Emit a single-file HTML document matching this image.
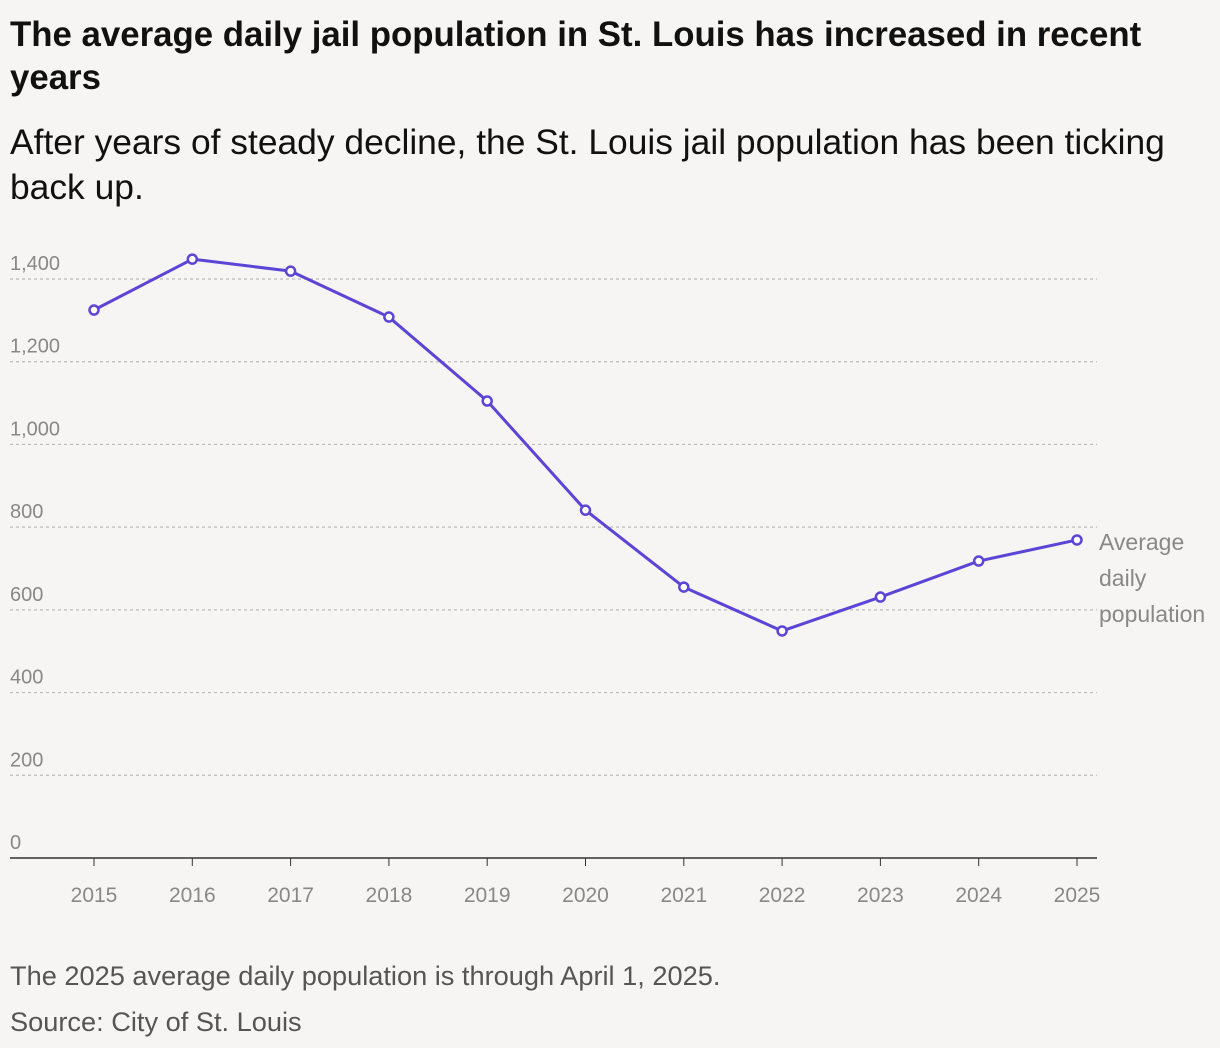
<!DOCTYPE html>
<html><head><meta charset="utf-8"><style>
html,body{margin:0;padding:0;background:#f6f5f3;width:1220px;height:1048px;overflow:hidden;font-family:"Liberation Sans",sans-serif;}
#title{position:absolute;left:10px;top:13px;width:1210px;font-size:34.8px;font-weight:bold;line-height:43px;color:#111;margin:0;white-space:nowrap}
#sub{position:absolute;left:10px;top:120px;width:1210px;font-size:35.4px;line-height:45px;color:#111;margin:0;white-space:nowrap}
.foot{position:absolute;left:10px;font-size:27.2px;color:#555}
svg{position:absolute;left:0;top:0}
</style></head><body>
<h1 id="title">The average daily jail population in St. Louis has increased in recent<br>years</h1>
<p id="sub">After years of steady decline, the St. Louis jail population has been ticking<br>back up.</p>
<svg id="chart" width="1220" height="1048"></svg>
<div class="foot" style="top:960px">The 2025 average daily population is through April 1, 2025.</div>
<div class="foot" style="top:1006px">Source: City of St. Louis</div>
<script>
const years=[2015,2016,2017,2018,2019,2020,2021,2022,2023,2024,2025];
const population=[1325,1448,1419,1308,1105,841,655,549,631,718,769];
const yTicks=[0,200,400,600,800,1000,1200,1400];
const yTickLabels=["0","200","400","600","800","1,000","1,200","1,400"];
const NS="http://www.w3.org/2000/svg";
const svg=document.getElementById('chart');
const x0=94,xStep=98.3,y0=858,yScale=(858-279)/1400;
const X=i=>x0+i*xStep, Y=v=>y0-v*yScale;
function mk(t,a){const e=document.createElementNS(NS,t);for(const k in a)e.setAttribute(k,a[k]);svg.appendChild(e);return e;}
yTicks.forEach((v,i)=>{
  if(v>0){const g=mk('line',{x1:10,x2:1097,y1:Y(v),y2:Y(v),stroke:'#bbb','stroke-width':1.2,'stroke-dasharray':'3,3'});
  
  }
  const t=mk('text',{x:10,y:Y(v)-9,'font-size':20,fill:'#888','font-family':'Liberation Sans, sans-serif'});
  t.textContent=yTickLabels[i];
  
  
});
const ax=mk('line',{x1:10,x2:1097,y1:y0,y2:y0,stroke:'#333','stroke-width':1.5});


years.forEach((yr,i)=>{
  const tk=mk('line',{x1:X(i),x2:X(i),y1:y0,y2:y0+8,stroke:'#333','stroke-width':1});
  
  
  const t=mk('text',{x:X(i),y:902,'font-size':21,fill:'#888','text-anchor':'middle','font-family':'Liberation Sans, sans-serif'});
  t.textContent=yr;
  
  
});
const pl=mk('polyline',{points:population.map((v,i)=>X(i)+','+Y(v)).join(' '),fill:'none',stroke:'#5b45d6','stroke-width':3,'stroke-linejoin':'round'});


population.forEach((v,i)=>{
  const c=mk('circle',{cx:X(i),cy:Y(v),r:4.5,fill:'#fff',stroke:'#5b45d6','stroke-width':2.5});
  
  
});
["Average","daily","population"].forEach((s,i)=>{
  const t=mk('text',{x:1099,y:550+i*36,'font-size':23,fill:'#888','font-family':'Liberation Sans, sans-serif'});
  t.textContent=s;
  
  
});
</script>
</body></html>
